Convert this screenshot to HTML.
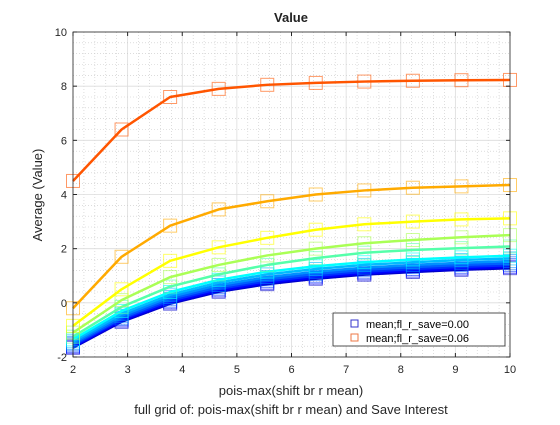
<!DOCTYPE html>
<html><head><meta charset="utf-8"><style>
body{margin:0;background:#fff;}
svg{font-family:"Liberation Sans",sans-serif;}
</style></head><body>
<svg id="c" width="560" height="420" xmlns="http://www.w3.org/2000/svg">
<rect width="560" height="420" fill="#fff"/>
<rect x="73" y="32" width="437" height="325" fill="#fff"/>
<g id="grid"></g><g id="series"></g><g id="axes"></g>
<text x="291" y="22" text-anchor="middle" font-size="13" font-weight="bold" fill="#222">Value</text>
<text x="291" y="395" text-anchor="middle" font-size="13" fill="#262626">pois-max(shift br r mean)</text>
<text x="291" y="414" text-anchor="middle" font-size="13" fill="#262626">full grid of: pois-max(shift br r mean) and Save Interest</text>
<text transform="translate(42,195) rotate(-90)" text-anchor="middle" font-size="13" fill="#262626">Average (Value)</text>
<g>
<rect x="333" y="313" width="172" height="33" fill="#fff" stroke="#262626" stroke-width="0.8"/>
<rect x="351" y="320" width="7" height="7" fill="none" stroke="#3333cc"/>
<text x="366" y="328" font-size="11" fill="#000">mean;fl_r_save=0.00</text>
<rect x="351" y="334" width="7" height="7" fill="none" stroke="#ee7744"/>
<text x="366" y="342" font-size="11" fill="#000">mean;fl_r_save=0.06</text>
</g>
</svg>
<script>
const xValues=[2,2.889,3.778,4.667,5.556,6.444,7.333,8.222,9.111,10];
const xTicks=[2,3,4,5,6,7,8,9,10];
const yTicks=[-2,0,2,4,6,8,10];
const colors=["#0000cc","#0000ff","#0030ff","#0060ff","#0090ff","#00bbff","#00ffff","#55ffaa","#aaff55","#ffff00","#ffaa00","#ff5500"];
const s0=[-1.66,-0.7,-0.03,0.41,0.69,0.89,1.04,1.14,1.22,1.28];
const s1=[-1.62,-0.65,0.02,0.46,0.74,0.94,1.09,1.19,1.27,1.33];
const s2=[-1.58,-0.6,0.08,0.52,0.8,1.0,1.15,1.25,1.33,1.39];
const s3=[-1.53,-0.55,0.15,0.58,0.87,1.07,1.22,1.32,1.4,1.46];
const s4=[-1.48,-0.48,0.22,0.66,0.95,1.15,1.3,1.4,1.48,1.54];
const s5=[-1.42,-0.4,0.3,0.75,1.05,1.25,1.4,1.5,1.58,1.64];
const s6=[-1.35,-0.3,0.4,0.85,1.15,1.35,1.5,1.6,1.68,1.74];
const s7=[-1.25,-0.15,0.6,1.05,1.4,1.65,1.85,1.95,2.02,2.08];
const s8=[-1.1,0.1,0.95,1.4,1.75,2.0,2.2,2.32,2.42,2.5];
const s9=[-0.85,0.5,1.55,2.05,2.4,2.7,2.9,3.0,3.08,3.12];
const s10=[-0.2,1.7,2.85,3.45,3.75,4.0,4.15,4.25,4.3,4.35];
const s11=[4.5,6.4,7.6,7.9,8.05,8.12,8.17,8.2,8.22,8.23];
const series=[s0,s1,s2,s3,s4,s5,s6,s7,s8,s9,s10,s11];
const NS="http://www.w3.org/2000/svg";
const X0=73,X1=510,Y0=357,Y1=32;
const sx=v=>X0+(v-2)/8*(X1-X0);
const sy=v=>Y0-(v+2)/12*(Y0-Y1);
function mk(t,a,p){const e=document.createElementNS(NS,t);for(const k in a)e.setAttribute(k,a[k]);p.appendChild(e);return e;}
const grid=document.getElementById('grid'),axes=document.getElementById('axes'),sg=document.getElementById('series');
for(let v=2;v<=10.001;v+=0.2){const x=sx(v);const major=Math.abs(v-Math.round(v))<1e-6;
const l=mk('line',{x1:x,x2:x,y1:Y1,y2:Y0,stroke:major?'#dcdcdc':'#c8c8c8','stroke-width':major?0.8:0.6,'stroke-dasharray':major?'':'1,2'},grid);
}
for(let v=-2;v<=10.001;v+=0.4){const y=sy(v);const major=Math.abs(v/2-Math.round(v/2))<1e-6;
const l=mk('line',{x1:X0,x2:X1,y1:y,y2:y,stroke:major?'#dcdcdc':'#c8c8c8','stroke-width':major?0.8:0.6,'stroke-dasharray':major?'':'1,2'},grid);
}
series.forEach((s,i)=>{
const g=mk('g',{},sg);


const pl=mk('polyline',{points:s.map((v,j)=>sx(xValues[j])+','+sy(v)).join(' '),fill:'none',stroke:colors[i],'stroke-width':2.5,'stroke-linejoin':'round'},g);

s.forEach((v,j)=>{const r=mk('rect',{x:sx(xValues[j])-6.5,y:sy(v)-6.5,width:13,height:13,fill:'none',stroke:colors[i],'stroke-opacity':0.6,'stroke-width':1},g);
});
});
mk('rect',{x:X0,y:Y1,width:X1-X0,height:Y0-Y1,fill:'none',stroke:'#262626','stroke-width':0.8},axes);
xTicks.forEach(t=>{const x=sx(t);mk('line',{x1:x,x2:x,y1:Y0,y2:Y0-4,stroke:'#262626'},axes);mk('line',{x1:x,x2:x,y1:Y1,y2:Y1+4,stroke:'#262626'},axes);
const tx=mk('text',{x:x,y:Y0+16,'text-anchor':'middle','font-size':11,fill:'#262626'},axes);tx.textContent=t;
});
yTicks.forEach(t=>{const y=sy(t);mk('line',{x1:X0,x2:X0+4,y1:y,y2:y,stroke:'#262626'},axes);mk('line',{x1:X1,x2:X1-4,y1:y,y2:y,stroke:'#262626'},axes);
const tx=mk('text',{x:X0-6,y:y+4,'text-anchor':'end','font-size':11,fill:'#262626'},axes);tx.textContent=t;
});
</script>
</body></html>
